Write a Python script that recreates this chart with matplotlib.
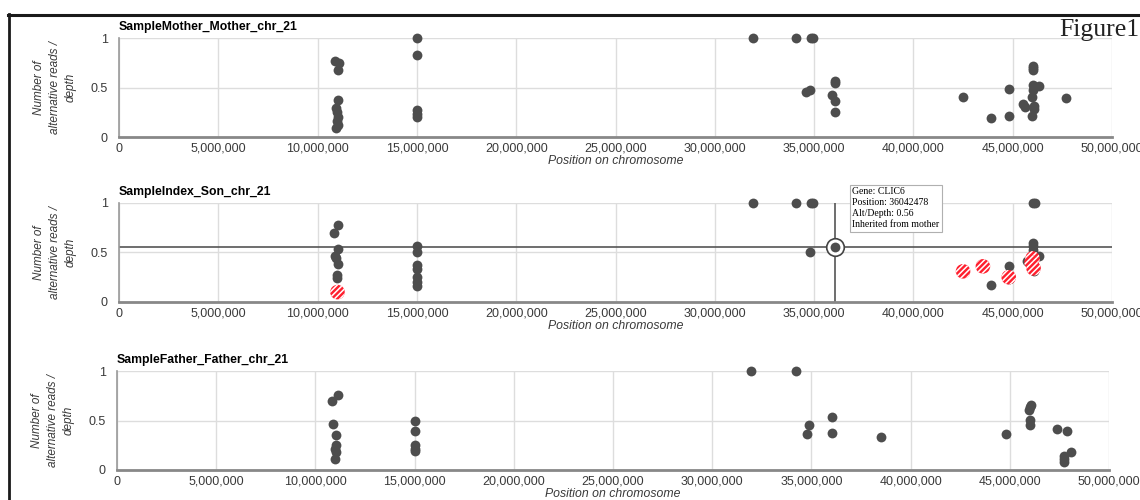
"""
variant allele fraction along chr21 for mother / son / father
"""

import matplotlib
matplotlib.use("Agg")
import matplotlib.pyplot as plt
from matplotlib.lines import Line2D
from matplotlib.ticker import FuncFormatter

# positions in Mb, values = alt reads / depth
mother_pos = [10.9, 11.1, 11.05, 11.05, 10.95, 11.0, 11.05, 11.0, 11.05, 10.95,
              15.0, 15.0, 15.0, 15.0, 15.0,
              31.9, 34.1, 34.85, 34.95, 34.6, 34.8, 36.05, 36.05, 35.9, 36.05, 36.05,
              42.5, 43.9, 44.8, 44.8, 46.0, 46.0, 46.0, 46.0, 46.3, 46.0, 45.95,
              45.5, 45.6, 46.05, 46.05, 45.95, 47.7]
mother_val = [0.77, 0.75, 0.68, 0.37, 0.29, 0.25, 0.20, 0.16, 0.12, 0.09,
              1.0, 0.83, 0.27, 0.23, 0.20,
              1.0, 1.0, 1.0, 1.0, 0.45, 0.47, 0.57, 0.55, 0.42, 0.36, 0.25,
              0.40, 0.19, 0.21, 0.48, 0.72, 0.70, 0.68, 0.53, 0.52, 0.47, 0.40,
              0.33, 0.30, 0.31, 0.28, 0.21, 0.39]

son_pos = [11.05, 10.85, 11.05, 10.9, 10.95, 11.05, 11.0, 11.0,
           15.0, 15.0, 15.0, 15.0, 15.0, 15.0, 15.0,
           31.9, 34.1, 34.85, 34.95, 34.8,
           46.0, 46.1, 46.0, 46.0, 46.0, 46.3, 45.7, 44.8, 44.8, 43.9, 46.05]
son_val = [0.78, 0.70, 0.54, 0.46, 0.44, 0.38, 0.27, 0.24,
           0.57, 0.51, 0.37, 0.33, 0.25, 0.20, 0.16,
           1.0, 1.0, 1.0, 1.0, 0.51,
           1.0, 1.0, 0.60, 0.57, 0.53, 0.46, 0.41, 0.36, 0.23, 0.17, 0.31]

# de novo candidates (red, striped)
son_new_pos = [11.0, 42.5, 43.5, 44.8, 46.0, 45.95, 46.05]
son_new_val = [0.10, 0.31, 0.36, 0.25, 0.44, 0.40, 0.34]

# hovered point
hover_pos = 36.042478
hover_val = 0.56
hover_text = ["Gene: CLIC6", "Position: 36042478", "Alt/Depth: 0.56",
              "Inherited from mother"]

father_pos = [11.15, 10.85, 10.9, 11.05, 11.05, 11.0, 11.05, 11.0,
              15.0, 15.0, 15.0, 15.0, 15.0,
              31.95, 34.2, 34.9, 34.8, 36.05, 36.05, 38.5,
              44.8, 46.05, 46.0, 45.95, 46.0, 46.0, 47.4, 47.9, 48.1,
              47.75, 47.75, 47.75]
father_val = [0.76, 0.70, 0.46, 0.35, 0.25, 0.21, 0.18, 0.11,
              0.49, 0.39, 0.25, 0.21, 0.19,
              1.0, 1.0, 0.45, 0.36, 0.54, 0.37, 0.33,
              0.36, 0.66, 0.64, 0.61, 0.51, 0.45, 0.41, 0.39, 0.18,
              0.14, 0.11, 0.08]

titles = ["SampleMother_Mother_chr_21", "SampleIndex_Son_chr_21",
          "SampleFather_Father_chr_21"]
x_ticks = [0, 5e6, 10e6, 15e6, 20e6, 25e6, 30e6, 35e6, 40e6, 45e6, 50e6]
y_ticks = [0, 0.5, 1]
y_labels = ["0", "0.5", "1"]

DOT = "#4d4d4d"
TXT = "#3a3a3a"
MB = 1e6

plt.rcParams["font.family"] = ["Liberation Sans", "DejaVu Sans"]
plt.rcParams["hatch.linewidth"] = 1.1

fig = plt.figure(figsize=(11.4, 5.0), dpi=100)

# axes boxes in pixels: left, top, right, bottom
boxes = [(119, 38, 1112, 137), (119, 203, 1112, 302), (117, 371, 1109, 470)]
axes = []
for (l, t, r, b) in boxes:
    ax = fig.add_axes([l / 1140, 1 - b / 500, (r - l) / 1140, (b - t) / 500])
    axes.append(ax)


def style(ax, title):
    ax.set_xlim(0, 50e6)
    ax.set_ylim(0, 1)
    ax.set_xticks(x_ticks)
    ax.set_yticks(y_ticks)
    ax.set_yticklabels(y_labels)
    ax.xaxis.set_major_formatter(FuncFormatter(lambda v, p: f"{v:,.0f}"))
    ax.tick_params(length=0, labelsize=9, colors=TXT)
    ax.tick_params(axis="x", pad=4)
    ax.tick_params(axis="y", pad=8)
    ax.grid(True, color="#dddddd", lw=1)
    ax.set_axisbelow(True)
    for s in ["top", "right"]:
        ax.spines[s].set_visible(False)
    ax.spines["left"].set_color("#999999")
    ax.spines["left"].set_linewidth(1.2)
    ax.spines["bottom"].set_color("#888888")
    ax.spines["bottom"].set_linewidth(2)
    ax.set_title(title, loc="left", fontsize=8.8, fontweight="bold",
                 color="black", pad=6)
    ax.set_xlabel("Position on chromosome", fontsize=8.8, style="italic",
                  color=TXT)
    ax.xaxis.set_label_coords(0.5, -0.185)
    ax.set_ylabel("Number of\nalternative reads /\ndepth", fontsize=8.5,
                  style="italic", color=TXT, linespacing=1.4)
    ax.yaxis.set_label_coords(-0.043, 0.5)


for ax, title in zip(axes, titles):
    style(ax, title)

ax1, ax2, ax3 = axes
ax1.scatter([p * MB for p in mother_pos], mother_val, s=50, color=DOT,
            lw=0, clip_on=False, zorder=3)
ax3.scatter([p * MB for p in father_pos], father_val, s=50, color=DOT,
            lw=0, clip_on=False, zorder=3)

# son panel with crosshair + tooltip
ax2.scatter([p * MB for p in son_pos], son_val, s=50, color=DOT,
            lw=0, clip_on=False, zorder=3)
ax2.scatter([p * MB for p in son_new_pos], son_new_val, s=110,
            facecolor="#ff1f2e", edgecolor="white", hatch="//////",
            lw=0, clip_on=False, zorder=4)
ax2.axhline(hover_val, color="#555555", lw=1.2, zorder=2)
ax2.axvline(hover_pos * MB, color="#555555", lw=1.2, zorder=2)
ax2.scatter([hover_pos * MB], [hover_val], s=160, facecolor="white",
            edgecolor="#444444", lw=1.2, zorder=5)
ax2.scatter([hover_pos * MB], [hover_val], s=50, color=DOT, lw=0, zorder=6)
ax2.text(36.92 * MB, 1.16, "\n".join(hover_text), fontsize=7,
         family=["Liberation Serif", "DejaVu Serif"], color="black",
         va="top", ha="left", linespacing=1.3, zorder=7, clip_on=False,
         bbox=dict(boxstyle="square,pad=0.25", facecolor="white",
                   edgecolor="#b0b0b0", lw=0.8))

# black frame lines (top + left)
fig.add_artist(Line2D([8 / 1140, 1.0], [1 - 15 / 500, 1 - 15 / 500],
                      color="#1a1a1a", lw=2.2))
fig.add_artist(Line2D([8.5 / 1140, 8.5 / 1140], [0, 1 - 14 / 500],
                      color="#1a1a1a", lw=2.0))

fig.text(1059 / 1140, 1 - 30 / 500, "Figure1", fontsize=18.5,
         family=["Liberation Serif", "DejaVu Serif"], color="#222222",
         va="center", ha="left")

fig.savefig("out.png", dpi=100)
